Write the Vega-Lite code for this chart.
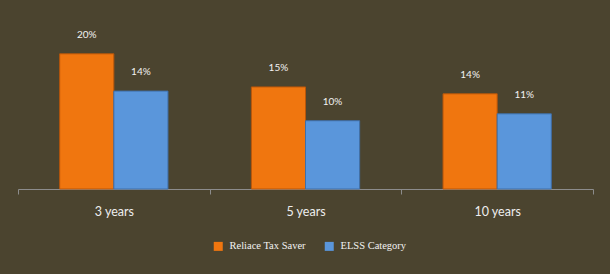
{
  "$schema": "https://vega.github.io/schema/vega-lite/v6.json",
  "width": 575,
  "height": 180,
  "autosize": {"type": "none"},
  "padding": {"left": 18, "top": 9, "right": 17, "bottom": 85},
  "background": "#4B442F",
  "config": {
    "view": {"stroke": null},
    "font": "Lato"
  },
  "data": {
    "values": [
      {"period": "3 years", "series": "Reliace Tax Saver", "value": 0.196},
      {"period": "3 years", "series": "ELSS Category", "value": 0.142},
      {"period": "5 years", "series": "Reliace Tax Saver", "value": 0.148},
      {"period": "5 years", "series": "ELSS Category", "value": 0.099},
      {"period": "10 years", "series": "Reliace Tax Saver", "value": 0.138},
      {"period": "10 years", "series": "ELSS Category", "value": 0.109}
    ]
  },
  "encoding": {
    "x": {
      "field": "period",
      "type": "nominal",
      "sort": ["3 years", "5 years", "10 years"],
      "scale": {"paddingInner": 0, "paddingOuter": 0},
      "axis": {
        "title": null,
        "labelAngle": 0,
        "tickBand": "extent",
        "domainColor": "#8C8C8C",
        "tickColor": "#8C8C8C",
        "tickSize": 5,
        "labelPadding": 17,
        "labelBaseline": "middle",
        "labelColor": "#EEEEEE",
        "labelFontSize": 12.5,
        "labelFont": "Lato"
      }
    },
    "xOffset": {
      "field": "series",
      "type": "nominal",
      "sort": ["Reliace Tax Saver", "ELSS Category"],
      "scale": {"paddingInner": 0, "paddingOuter": 0.77}
    },
    "y": {
      "field": "value",
      "type": "quantitative",
      "scale": {"domain": [0, 0.261], "nice": false},
      "axis": null
    }
  },
  "layer": [
    {
      "mark": {"type": "bar", "strokeWidth": 1},
      "encoding": {
        "color": {
          "field": "series",
          "type": "nominal",
          "sort": ["Reliace Tax Saver", "ELSS Category"],
          "scale": {"domain": ["Reliace Tax Saver", "ELSS Category"], "range": ["#F0760F", "#5A96DB"]},
          "legend": {
            "title": null,
            "orient": "none",
            "direction": "horizontal",
            "legendX": 195,
            "legendY": 232,
            "padding": 0,
            "symbolType": "square",
            "symbolSize": 81,
            "symbolStrokeWidth": 0,
            "symbolOpacity": 1,
            "labelFont": "Liberation Serif",
            "labelFontSize": 10.5,
            "labelColor": "#F2F2F2",
            "labelOffset": 6,
            "columnPadding": 18
          }
        },
        "stroke": {
          "field": "series",
          "type": "nominal",
          "scale": {"domain": ["Reliace Tax Saver", "ELSS Category"], "range": ["#B8560A", "#3F6FA8"]},
          "legend": null
        }
      }
    },
    {
      "mark": {"type": "text", "dy": -19, "baseline": "middle", "align": "center", "color": "#F2F2F2", "fontSize": 10, "font": "Lato"},
      "encoding": {
        "text": {"field": "value", "type": "quantitative", "format": ".0%"}
      }
    }
  ]
}
